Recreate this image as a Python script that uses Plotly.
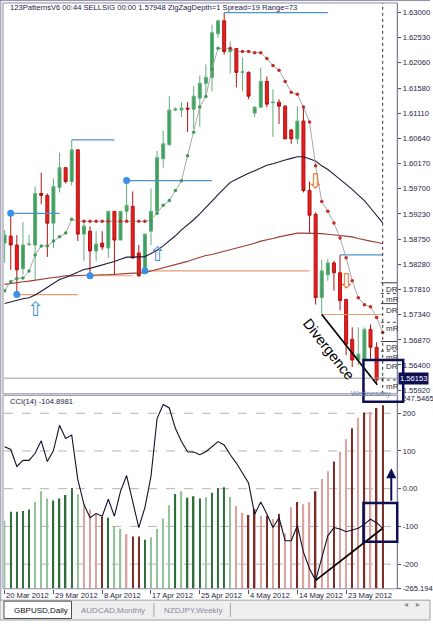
import plotly.graph_objects as go

W, H = 433, 625

# ---------------- data ----------------
date_labels = ["20 Mar 2012", "29 Mar 2012", "8 Apr 2012", "17 Apr 2012",
               "25 Apr 2012", "4 May 2012", "14 May 2012", "23 May 2012"]
date_label_idx = [0, 8, 16, 24, 32, 40, 48, 56]

opens = [1.58684, 1.58814, 1.58647, 1.58201, 1.58656, 1.58647, 1.59613, 1.59576, 1.59056, 1.59724,
         1.60096, 1.59836, 1.60430, 1.58851, 1.58907, 1.58535, 1.58684, 1.58591, 1.59279, 1.58740,
         1.59279, 1.59371, 1.58498, 1.58182, 1.58907, 1.59279, 1.60263, 1.60523, 1.61174, 1.61174,
         1.61211, 1.61192, 1.61397, 1.61675, 1.61787, 1.62604, 1.62846, 1.62270, 1.62326, 1.61880,
         1.61880, 1.61118, 1.61229, 1.61712, 1.61313, 1.61322, 1.61248, 1.60802, 1.60635, 1.60969,
         1.59669, 1.59223, 1.57662, 1.58089, 1.58312, 1.58127, 1.57625, 1.56882, 1.56492, 1.56510,
         1.57067, 1.56733, 1.56148]
highs = [1.58925, 1.59241, 1.58833, 1.59074, 1.58833, 1.59743, 1.60003, 1.59613, 1.59892, 1.60375,
         1.60096, 1.60616, 1.60430, 1.59093, 1.59000, 1.58907, 1.58907, 1.59279, 1.59279, 1.59279,
         1.59854, 1.59650, 1.58647, 1.58851, 1.59706, 1.60412, 1.60783, 1.61434, 1.61229, 1.61322,
         1.61322, 1.61620, 1.61824, 1.62028, 1.62772, 1.62864, 1.63000, 1.62456, 1.62326, 1.62158,
         1.61898, 1.61248, 1.61973, 1.61805, 1.61564, 1.61378, 1.61267, 1.60821, 1.61248, 1.61248,
         1.59836, 1.59260, 1.58368, 1.58387, 1.58350, 1.58461, 1.57643, 1.57105, 1.57105, 1.57105,
         1.57160, 1.56826, 1.56176]
lows = [1.58312, 1.58182, 1.57718, 1.58089, 1.58628, 1.57996, 1.59409, 1.58424, 1.58591, 1.59632,
        1.59799, 1.59762, 1.58721, 1.58350, 1.58071, 1.58350, 1.58554, 1.58405, 1.58089, 1.58740,
        1.59093, 1.58387, 1.58052, 1.58164, 1.58647, 1.59260, 1.60096, 1.60523, 1.61155, 1.61044,
        1.60765, 1.60821, 1.60858, 1.61452, 1.61527, 1.62530, 1.62214, 1.61861, 1.61601, 1.61527,
        1.61378, 1.61044, 1.61211, 1.61229, 1.60672, 1.60914, 1.60635, 1.60542, 1.60542, 1.59632,
        1.58870, 1.57532, 1.57346, 1.57978, 1.57792, 1.57421, 1.56584, 1.56361, 1.56399, 1.56473,
        1.56492, 1.56064, 1.56138]
closes = [1.58833, 1.58647, 1.58182, 1.58647, 1.58665, 1.59613, 1.59576, 1.59056, 1.59743, 1.60096,
          1.59836, 1.60430, 1.58851, 1.59000, 1.58535, 1.58665, 1.58610, 1.59279, 1.58740, 1.59279,
          1.59390, 1.58405, 1.58071, 1.58851, 1.59279, 1.60282, 1.60542, 1.61174, 1.61192, 1.61211,
          1.61192, 1.61434, 1.61675, 1.61787, 1.62623, 1.62846, 1.62270, 1.62326, 1.61880, 1.61889,
          1.61434, 1.61229, 1.61712, 1.61285, 1.61322, 1.61248, 1.60635, 1.60635, 1.60969, 1.59669,
          1.59204, 1.57662, 1.58164, 1.58312, 1.58127, 1.57606, 1.56789, 1.56492, 1.56603, 1.57067,
          1.56733, 1.56120, 1.56153]

ma_black = [1.5755, 1.5758, 1.5762, 1.5764, 1.5766, 1.5771, 1.5778, 1.5785, 1.5792, 1.5800,
            1.5804, 1.5809, 1.5815, 1.5819, 1.5821, 1.5824, 1.5827, 1.5830, 1.5834, 1.5838,
            1.5842, 1.5842, 1.5842, 1.5843, 1.5849, 1.5855, 1.5863, 1.5872, 1.5882, 1.5893,
            1.5902, 1.5912, 1.5923, 1.5936, 1.5947, 1.5959, 1.5971, 1.5982, 1.5988, 1.5994,
            1.5999, 1.6004, 1.6009, 1.6014, 1.6017, 1.6021, 1.6024, 1.6027, 1.6030, 1.6030,
            1.6026, 1.6022, 1.6013, 1.6006, 1.5997, 1.5988, 1.5978, 1.5969, 1.5958, 1.5948,
            1.5934, 1.5920, 1.5906]
ma_brown = [1.5791, 1.5793, 1.5794, 1.5796, 1.5797, 1.5799, 1.5800, 1.5802, 1.5804, 1.5805,
            1.5807, 1.5807, 1.5808, 1.5808, 1.5808, 1.5809, 1.5809, 1.5809, 1.5810, 1.5810,
            1.5811, 1.5812, 1.5812, 1.5813, 1.5816, 1.5819, 1.5821, 1.5824, 1.5827, 1.5830,
            1.5834, 1.5838, 1.5842, 1.5845, 1.5847, 1.5850, 1.5852, 1.5855, 1.5858, 1.5862,
            1.5865, 1.5868, 1.5872, 1.5874, 1.5877, 1.5880, 1.5882, 1.5884, 1.5887, 1.5887,
            1.5887, 1.5887, 1.5886, 1.5885, 1.5884, 1.5883, 1.5882, 1.5880, 1.5877, 1.5874,
            1.5872, 1.5870, 1.5867]
trail = [1.5779, 1.5796, 1.5802, 1.5803, 1.5816, 1.5846, 1.5863, 1.5863, 1.5872, 1.5880,
         1.5887, 1.5913, 1.5909, 1.5909, 1.5909, 1.5909, 1.5909, 1.5909, 1.5909, 1.5909,
         1.5909, 1.5909, 1.5909, 1.5909, 1.5911, 1.5924, 1.5939, 1.5948, 1.5967, 1.5985,
         1.6032, 1.6076, 1.6123, 1.6143, 1.6194, 1.6233, 1.6233, 1.6233, 1.6227, 1.6227,
         1.6227, 1.6225, 1.6225, 1.6214, 1.6201, 1.6192, 1.6171, 1.6151, 1.6147, 1.6123,
         1.6095, 1.6013, 1.5946, 1.5928, 1.5906, 1.5878, 1.5841, 1.5798, 1.5766, 1.5753,
         1.5749, 1.5729, 1.5701]
trail_side = "u" * 12 + "d" * 12 + "u" * 12 + "d" * 27

cci = [111, 104, 59, 75, 75, 94, 127, 72, 101, 168, 133, 142, 24, -41, -77, -66, -73, -28, -73, -7,
       35, -33, -103, -50, 33, 186, 223, 214, 160, 125, 98, 97, 90, 98, 112, 125, 116, 90, 68, 41,
       15, -68, -35, -67, -103, -77, -138, -138, -98, -168, -212, -243, -185, -125, -103, -107, -114,
       -109, -105, -94, -81, -90, -104.9]
hist = [-85, -61, -61, -59, -55, -35, -7, -26, -31, -26, -17, 2, -15, -41, -55, -68, -75, -77, -101, -106,
        -120, -127, -127, -135, -129, -107, -79, -44, -14, -7, -24, -20, -26, -22, -11, 2, 4, -22, -46, -64,
        -70, -54, -72, -72, -80, -67, -119, -49, -35, -41, -35, -7, 26, 46, 72, 98, 131, 160, 188, 202,
        203, 214, 221]
hist_col = "gGGGG" + "gggGGGG" + "grrrR" + "GggrRRG" + "ggggGgGGGgGGG" + "grrRRrRrRrrRrrRrrRrrRrRrRR"

price_ticks = [1.63000, 1.62530, 1.62060, 1.61580, 1.61110, 1.60640, 1.60170, 1.59700,
               1.59230, 1.58750, 1.58280, 1.57810, 1.57340, 1.56870, 1.56400, 1.55920]
cci_ticks = [200, 100, 0, -100, -200, -265.194]
cci_tick_text = ["200", "100", "0.00", "-100", "-200", "-265.194"]
cci_min, cci_max = -265.194, 247.5465
price_min, price_max = 1.55860, 1.63180
current_price = 1.56153

zz_idx = [1, 2, 14, 20, 23]
# pattern lines: (start bar, end bar, price, kind)
pattern_lines = [(1, 9, highs[1], "b"), (2, 12, lows[2], "o"), (11, 18, highs[11], "b"),
                 (14, 21, lows[14], "o"), (20, 34, highs[20], "b"), (23, 50, lows[23], "o"),
                 (36, 53, highs[36], "b"), (55, 62, highs[55], "b"), (52, 62, lows[52], "o")]
up_arrows = [(5, 1.57448), (25, 1.58480)]
down_arrows = [(51, 1.59845), (56, 1.57978)]
div_main = ([52, 61.1], [lows[52], 1.5603])
div_cci = ([51, 62], [cci[51], cci[62]])
pivot_levels = [1.5794, 1.5774, 1.5755, 1.5720, 1.5684, 1.5666, 1.5649, 1.5612]
pivot_names = ["DR", "mR", "DR", "mR", "DR", "mR", "DR", "mR"]

# ---------------- figure ----------------
FONT = "Liberation Sans, Arial, sans-serif"
TXT = "#1c1c44"
FS = 7.6
n = len(closes)
idx = list(range(n))
xr = [-0.11, 64.38]


def pxx(x):
    return x / W


def pxy(y):
    return 1 - y / H


pal = {"g": "#93c29b", "G": "#2f6e3b", "r": "#d9a3a0", "R": "#7c2b26"}
cols = [pal[c] for c in (hist_col + "R" * n)[:n]]

fig = go.Figure()
fig.add_trace(go.Bar(x=idx, y=[v - cci_min for v in hist], base=cci_min, width=0.24,
                     marker=dict(color=cols, line=dict(width=0)), xaxis="x2", yaxis="y2",
                     hoverinfo="skip"))
fig.add_trace(go.Scatter(x=idx, y=cci, mode="lines", line=dict(color="#10102a", width=1.1),
                         xaxis="x2", yaxis="y2"))
fig.add_trace(go.Scatter(x=div_cci[0], y=div_cci[1], mode="lines",
                         line=dict(color="#000000", width=1.7), xaxis="x2", yaxis="y2"))

# pattern lines
for i0, i1, p, k in pattern_lines:
    fig.add_trace(go.Scatter(x=[i0, i1], y=[p, p], mode="lines",
                             line=dict(color="#4f93c8" if k == "b" else "#e49e73", width=1.2)))

fig.add_trace(go.Candlestick(
    x=idx, open=opens, high=highs, low=lows, close=closes, whiskerwidth=0,
    increasing=dict(line=dict(color="#62ad7a", width=1), fillcolor="#3c9f5e"),
    decreasing=dict(line=dict(color="#b01414", width=1), fillcolor="#ec1c1c"),
    hoverinfo="skip"))

fig.add_trace(go.Scatter(x=idx, y=ma_brown, mode="lines", line=dict(color="#9c3b30", width=1.1)))
fig.add_trace(go.Scatter(x=idx, y=ma_black, mode="lines", line=dict(color="#1c1c3c", width=1.1)))
fig.add_trace(go.Scatter(x=idx, y=trail, mode="lines", line=dict(color="#a8a8a8", width=1)))
fig.add_trace(go.Scatter(x=[i for i in idx if trail_side[i] == "u"],
                         y=[trail[i] for i in idx if trail_side[i] == "u"], mode="markers",
                         marker=dict(color="#3f9a55", size=3.5)))
fig.add_trace(go.Scatter(x=[i for i in idx if trail_side[i] == "d"],
                         y=[trail[i] for i in idx if trail_side[i] == "d"], mode="markers",
                         marker=dict(color="#c42a22", size=3.5)))
fig.add_trace(go.Scatter(x=zz_idx, y=[highs[1], lows[2], lows[14], highs[20], lows[23]],
                         mode="markers", marker=dict(color="#3a8fe6", size=7)))
fig.add_trace(go.Scatter(x=div_main[0], y=div_main[1], mode="lines",
                         line=dict(color="#000000", width=1.7)))

shapes = []
annos = []

# CCI grid
for v in [200, 100, 0, -100, -200]:
    shapes.append(dict(type="line", xref="paper", yref="y2", x0=pxx(4), x1=pxx(400), y0=v, y1=v,
                       line=dict(color="#b4b4b4", width=1, dash="dash"), layer="below"))
# current price line
shapes.append(dict(type="line", xref="paper", yref="y", x0=pxx(4), x1=pxx(400),
                   y0=current_price, y1=current_price, line=dict(color="#9a9a9a", width=1)))
# dashed vertical at last bar
shapes.append(dict(type="line", xref="x", yref="paper", x0=n - 1, x1=n - 1, y0=pxy(397), y1=pxy(3),
                   line=dict(color="#303030", width=1, dash="dot")))
# pivot levels
for p, nm in zip(pivot_levels, pivot_names):
    shapes.append(dict(type="line", xref="x", yref="y", x0=n - 1 - 0.3, x1=xr[1], y0=p, y1=p,
                       line=dict(color="#404040", width=1, dash="solid" if nm == "DR" else "dot")))
    annos.append(dict(x=n - 1 + 0.2, y=p, xref="x", yref="y", text=nm, showarrow=False,
                      xanchor="left", yanchor="top", font=dict(size=8, color="#303030", family=FONT)))
# frames
shapes.append(dict(type="rect", xref="paper", yref="paper", x0=pxx(3), x1=pxx(400), y0=pxy(397), y1=pxy(3),
                   line=dict(color="#8c8ca4", width=1)))
shapes.append(dict(type="rect", xref="paper", yref="paper", x0=pxx(3), x1=pxx(400), y0=pxy(593.5), y1=pxy(398.5),
                   line=dict(color="#8c8ca4", width=1)))
shapes.append(dict(type="line", xref="paper", yref="paper", x0=pxx(0.8), x1=pxx(0.8), y0=pxy(605), y1=pxy(0),
                   line=dict(color="#8c8ca4", width=1)))
shapes.append(dict(type="line", xref="paper", yref="paper", x0=pxx(0), x1=pxx(433), y0=pxy(0.6), y1=pxy(0.6),
                   line=dict(color="#8c8ca4", width=1)))
# tab strip
shapes.append(dict(type="rect", xref="paper", yref="paper", x0=0, x1=1, y0=0, y1=pxy(605),
                   fillcolor="#efefef", line=dict(color="#a0a0a0", width=1), layer="below"))
shapes.append(dict(type="rect", xref="paper", yref="paper", x0=pxx(4), x1=pxx(72), y0=pxy(623.5), y1=pxy(606),
                   fillcolor="#ffffff", line=dict(color="#505050", width=1)))
for sx in [155, 232]:
    shapes.append(dict(type="line", xref="paper", yref="paper", x0=pxx(sx), x1=pxx(sx), y0=pxy(622), y1=pxy(608),
                       line=dict(color="#a0a0a0", width=1)))
# navy boxes
NAVY = "#0e0e52"
shapes.append(dict(type="rect", xref="paper", yref="paper", x0=pxx(366), x1=pxx(406), y0=pxy(405), y1=pxy(363),
                   line=dict(color=NAVY, width=2.5)))
shapes.append(dict(type="rect", xref="paper", yref="paper", x0=pxx(366), x1=pxx(400), y0=pxy(546), y1=pxy(507),
                   line=dict(color=NAVY, width=2.5)))

# texts
annos.append(dict(x=pxx(8), y=pxy(7.5), xref="paper", yref="paper", xanchor="left", yanchor="middle",
                  showarrow=False, font=dict(size=FS, color=TXT, family=FONT),
                  text="123PatternsV6 00:44 SELLSIG 00:00 1.57948 ZigZagDepth=1 Spread=19 Range=73"))
annos.append(dict(x=pxx(8), y=pxy(405), xref="paper", yref="paper", xanchor="left", yanchor="middle",
                  showarrow=False, font=dict(size=FS, color=TXT, family=FONT), text="CCI(14) -104.8981"))
annos.append(dict(x=pxx(403), y=pxy(401.5), xref="paper", yref="paper", xanchor="left", yanchor="middle",
                  showarrow=False, font=dict(size=FS, color=TXT, family=FONT), text="247.5465"))
for i, lab in zip(date_label_idx, date_labels):
    annos.append(dict(x=i - 0.1, y=pxy(600), xref="x2", yref="paper", xanchor="left", yanchor="middle",
                      showarrow=False, font=dict(size=FS, color=TXT, family=FONT), text=lab))
annos.append(dict(x=pxx(401), y=current_price, xref="paper", yref="y", xanchor="left", yanchor="middle",
                  showarrow=False, text="1.56153", bgcolor=NAVY, borderpad=1,
                  font=dict(size=FS, color="#ffffff", family=FONT)))
for i, p in up_arrows:
    annos.append(dict(x=i, y=p, xref="x", yref="y", text="\u21e7", showarrow=False,
                      font=dict(size=20, color="#4a8fd6", family="DejaVu Sans")))
for i, p in down_arrows:
    annos.append(dict(x=i, y=p, xref="x", yref="y", text="\u21e9", showarrow=False,
                      font=dict(size=20, color="#e8702a", family="DejaVu Sans")))
annos.append(dict(x=53.1, y=1.56696, xref="x", yref="y", text="Divergence", showarrow=False,
                  textangle=52, font=dict(size=14.5, color="#000000", family="Liberation Sans")))
annos.append(dict(x=pxx(351), y=pxy(396.3), xref="paper", yref="paper", xanchor="left", yanchor="middle",
                  text="Wednesday", showarrow=False, font=dict(size=7.5, color="#7585ad", family=FONT)))
annos.append(dict(x=pxx(394), y=pxy(472), xref="paper", yref="paper", ax=0, ay=34, text="",
                  showarrow=True, arrowhead=2, arrowsize=1, arrowwidth=2, arrowcolor=NAVY))
# tabs
annos.append(dict(x=pxx(12), y=pxy(615.5), xref="paper", yref="paper", xanchor="left", yanchor="middle",
                  text="GBPUSD,Daily", showarrow=False, font=dict(size=8, color="#101010", family=FONT)))
annos.append(dict(x=pxx(80), y=pxy(615.5), xref="paper", yref="paper", xanchor="left", yanchor="middle",
                  text="AUDCAD,Monthly", showarrow=False, font=dict(size=8, color="#8a8aa0", family=FONT)))
annos.append(dict(x=pxx(163), y=pxy(615.5), xref="paper", yref="paper", xanchor="left", yanchor="middle",
                  text="NZDJPY,Weekly", showarrow=False, font=dict(size=8, color="#8a8aa0", family=FONT)))
annos.append(dict(x=pxx(413), y=pxy(615.5), xref="paper", yref="paper", text="\u25c2", showarrow=False,
                  font=dict(size=8, color="#909090", family="DejaVu Sans")))
annos.append(dict(x=pxx(425), y=pxy(615.5), xref="paper", yref="paper", text="\u25b8", showarrow=False,
                  font=dict(size=8, color="#909090", family="DejaVu Sans")))

axis_common = dict(showgrid=False, zeroline=False, fixedrange=True)
fig.update_layout(
    width=W, height=H, margin=dict(l=0, r=0, t=0, b=0), autosize=False,
    paper_bgcolor="white", plot_bgcolor="white", showlegend=False, hovermode=False,
    xaxis=dict(domain=[pxx(4), pxx(400)], range=xr, anchor="y", showticklabels=False,
               rangeslider=dict(visible=False), showline=False, **axis_common),
    yaxis=dict(domain=[pxy(397), pxy(3)], range=[price_min, price_max], side="right", anchor="x",
               tickvals=price_ticks, ticktext=[f"{v:.5f}" for v in price_ticks], ticks="outside",
               ticklen=3, tickcolor="#505070", showline=True, linecolor="#505070",
               tickfont=dict(size=FS, color=TXT, family=FONT), **axis_common),
    xaxis2=dict(domain=[pxx(4), pxx(400)], range=xr, anchor="y2", tickvals=date_label_idx,
                showticklabels=False, ticks="outside", ticklen=4, tickcolor="#505070",
                showline=False, **axis_common),
    yaxis2=dict(domain=[pxy(593.5), pxy(398.5)], range=[cci_min, cci_max], side="right", anchor="x2",
                tickvals=cci_ticks, ticktext=cci_tick_text, ticks="outside", ticklen=3,
                tickcolor="#505070", showline=True, linecolor="#505070",
                tickfont=dict(size=FS, color=TXT, family=FONT), **axis_common),
    shapes=shapes, annotations=annos,
)

fig.write_html("out.html")
